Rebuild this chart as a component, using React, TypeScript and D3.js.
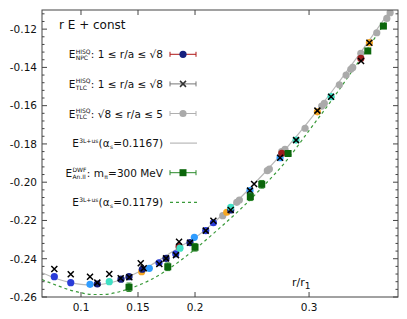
import * as d3 from 'd3'

// NPC HISQ points (1 <= r/a <= sqrt 8), one colour per ensemble
const npcX = [0.0766, 0.091, 0.1079, 0.1143, 0.1248, 0.1351, 0.1421, 0.1532, 0.1538, 0.1599, 0.1684, 0.1746, 0.1831, 0.186, 0.1868, 0.1956, 0.1994, 0.2094, 0.2161, 0.2278, 0.2313, 0.2313, 0.2482, 0.2746, 0.2761, 0.2886, 0.3073, 0.3193, 0.3454, 0.3529]
const npcY = [-0.2494, -0.2525, -0.2534, -0.2532, -0.252, -0.2507, -0.2494, -0.2468, -0.2455, -0.245, -0.2421, -0.2398, -0.2375, -0.2337, -0.2345, -0.2316, -0.2288, -0.2253, -0.2212, -0.2157, -0.2145, -0.2131, -0.2044, -0.1872, -0.1849, -0.178, -0.1632, -0.1553, -0.1353, -0.1271]
const npcEns = ['b', 'b', 'l', 'n', 'c', 'n', 'n', 'o', 'n', 'l', 'b', 'n', 'b', 'r', 'c', 'n', 'l', 'b', 'b', 'o', 'n', 'c', 'l', 'l', 'r', 'c', 'o', 'c', 'r', 'o']

// TLC HISQ points (1 <= r/a <= sqrt 8)
const tlcX = [0.0766, 0.091, 0.1079, 0.1143, 0.1248, 0.1348, 0.1424, 0.1524, 0.155, 0.1687, 0.1746, 0.1833, 0.186, 0.1956, 0.2094, 0.2161, 0.2313, 0.2482, 0.2518, 0.2746, 0.2886, 0.3073, 0.3193, 0.3456, 0.3529]
const tlcY = [-0.2454, -0.2481, -0.2494, -0.2525, -0.248, -0.2502, -0.2497, -0.2424, -0.245, -0.2428, -0.2398, -0.2381, -0.2311, -0.2316, -0.2253, -0.2201, -0.2145, -0.2044, -0.2009, -0.1872, -0.178, -0.1626, -0.1553, -0.1367, -0.1271]

// TLC HISQ points (sqrt 8 <= r/a <= 5)
const farX = [0.2243, 0.2366, 0.2389, 0.2634, 0.2652, 0.276, 0.2789, 0.2965, 0.3111, 0.3134, 0.3266, 0.3325, 0.3366, 0.3383, 0.3454, 0.3594, 0.3682, 0.3711]
const farY = [-0.2175, -0.2105, -0.2093, -0.194, -0.1931, -0.184, -0.1828, -0.1718, -0.1602, -0.1588, -0.1491, -0.144, -0.141, -0.14, -0.1326, -0.1219, -0.1144, -0.1114]

// DWF An.II, m_pi = 300 MeV
const dwfX = [0.1421, 0.1761, 0.2, 0.2485, 0.2585, 0.2816, 0.3515, 0.3652]
const dwfY = [-0.2549, -0.2442, -0.234, -0.2076, -0.2011, -0.185, -0.1314, -0.1184]
const dwfErr = [0.0022, 0.002, 0.002, 0.002, 0.002, 0.0012, 0.0012, 0.001]

// 3L+us curves
const curveX = [0.0658, 0.08, 0.09, 0.1, 0.11, 0.12, 0.13, 0.14, 0.15, 0.16, 0.17, 0.18, 0.19, 0.2, 0.22, 0.24, 0.26, 0.28, 0.3, 0.32, 0.34, 0.36, 0.372]
const curve1167 = [-0.2473, -0.2507, -0.2524, -0.2534, -0.2537, -0.2532, -0.2519, -0.2498, -0.2471, -0.2438, -0.2402, -0.2364, -0.2326, -0.229, -0.2192, -0.208, -0.1957, -0.1823, -0.1679, -0.1526, -0.1365, -0.1197, -0.1095]
const curve1179 = [-0.2509, -0.2542, -0.2563, -0.2578, -0.2587, -0.2587, -0.2578, -0.2561, -0.254, -0.2513, -0.248, -0.2441, -0.2397, -0.235, -0.2248, -0.214, -0.202, -0.1889, -0.173, -0.157, -0.14, -0.1225, -0.1115]

const xTicks = [0.1, 0.15, 0.2, 0.3]
const yTicks = [-0.26, -0.24, -0.22, -0.2, -0.18, -0.16, -0.14, -0.12]

const ensColor: Record<string, string> = {
  b: '#2a3cd8',
  n: '#16207e',
  l: '#2f9cff',
  c: '#3fe0c4',
  o: '#f5a623',
  r: '#9b1c1c',
}

type Seg = { t?: string; sup?: string; sub?: string }
const legendRows: Seg[][] = [
  [{ t: 'E' }, { sup: 'HISQ', sub: 'NPC' }, { t: ': 1 ≤ r/a ≤ √8' }],
  [{ t: 'E' }, { sup: 'HISQ', sub: 'TLC' }, { t: ': 1 ≤ r/a ≤ √8' }],
  [{ t: 'E' }, { sup: 'HISQ', sub: 'TLC' }, { t: ': √8 ≤ r/a ≤ 5' }],
  [{ t: 'E' }, { sup: '3L+us' }, { t: '(α' }, { sub: 's' }, { t: '=0.1167)' }],
  [{ t: 'E' }, { sup: 'DWF', sub: 'An.II' }, { t: ': m' }, { sub: 'π' }, { t: '=300 MeV' }],
  [{ t: 'E' }, { sup: '3L+us' }, { t: '(α' }, { sub: 's' }, { t: '=0.1179)' }],
]

const FONT = '"DejaVu Sans", sans-serif'
const MAIN = 10.5
const SMALL = 6

const ctx = document.createElement('canvas').getContext('2d')!
function tw(s: string, size: number) {
  ctx.font = `${size}px "DejaVu Sans"`
  return ctx.measureText(s).width
}

function LegendText({ segs, right, y }: { segs: Seg[]; right: number; y: number }) {
  const widths = segs.map(s =>
    s.t ? tw(s.t, MAIN) : Math.max(s.sup ? tw(s.sup, SMALL) : 0, s.sub ? tw(s.sub, SMALL) : 0) + 0.6
  )
  let x = right - d3.sum(widths)
  const out: JSX.Element[] = []
  segs.forEach((s, i) => {
    if (s.t) out.push(<text key={i} x={x} y={y} fontSize={MAIN}>{s.t}</text>)
    if (s.sup) out.push(<text key={i + 'p'} x={x + 0.3} y={y - 4.6} fontSize={SMALL}>{s.sup}</text>)
    if (s.sub) out.push(<text key={i + 'b'} x={x + 0.3} y={y + 1.8} fontSize={SMALL}>{s.sub}</text>)
    x += widths[i]
  })
  return <g>{out}</g>
}

function Cross({ x, y, s = 3, color = '#000' }: { x: number; y: number; s?: number; color?: string }) {
  return (
    <path d={`M${x - s},${y - s}L${x + s},${y + s}M${x - s},${y + s}L${x + s},${y - s}`} stroke={color} strokeWidth={1.5} />
  )
}

export default function App() {
  const W = 407
  const H = 319
  const L = 42, R = 398, T = 10, B = 297
  const x = d3.scaleLinear().domain([0.0658, 0.378]).range([L, R])
  const y = d3.scaleLinear().domain([-0.26, -0.11]).range([B, T])

  const line = d3
    .line<number>()
    .x((_, i) => x(curveX[i]))
    .y(d => y(d))
    .curve(d3.curveMonotoneX)

  const minorY = d3.range(0, 38).map(i => -0.26 + i * 0.004).filter(v => v < -0.1101 && Math.abs(((v + 0.26) / 0.02) - Math.round((v + 0.26) / 0.02)) > 0.01)

  const axisColor = '#444'
  const legRight = 163
  const sx0 = 170, sx1 = 196, sxm = 183
  const rowY = d3.range(6).map(i => 54.3 + i * 29.6)

  return (
    <div style={{ position: 'fixed', left: 0, top: 0 }}>
      <svg width={W} height={H} style={{ display: 'block', background: '#fff', fontFamily: FONT }}>
        <defs>
          <clipPath id="plot">
            <rect x={L} y={T} width={R - L} height={B - T} />
          </clipPath>
        </defs>

        {/* axis ticks */}
        {yTicks.map(v => (
          <g key={v}>
            <line x1={L} x2={L + 5} y1={y(v)} y2={y(v)} stroke={axisColor} />
            <line x1={R} x2={R - 5} y1={y(v)} y2={y(v)} stroke={axisColor} />
            <text x={L - 5} y={y(v) + 3.8} fontSize={10.5} textAnchor="end" fill="#111">
              {v.toFixed(2)}
            </text>
          </g>
        ))}
        {minorY.map(v => (
          <g key={'m' + v}>
            <line x1={L} x2={L + 2.5} y1={y(v)} y2={y(v)} stroke={axisColor} />
            <line x1={R} x2={R - 2.5} y1={y(v)} y2={y(v)} stroke={axisColor} />
          </g>
        ))}
        {xTicks.map(v => (
          <g key={v}>
            <line x1={x(v)} x2={x(v)} y1={B} y2={B - 5} stroke={axisColor} />
            <line x1={x(v)} x2={x(v)} y1={T} y2={T + 5} stroke={axisColor} />
            <text x={x(v)} y={B + 13.5} fontSize={10.5} textAnchor="middle" fill="#111">
              {String(v)}
            </text>
          </g>
        ))}

        <g clipPath="url(#plot)">
          <path d={line(curve1167) ?? ''} fill="none" stroke="#b8b8b8" strokeWidth={1.2} />
          <path d={line(curve1179) ?? ''} fill="none" stroke="#3a9a3a" strokeWidth={1.2} strokeDasharray="3,3" />

          {farX.map((v, i) => (
            <circle key={'f' + i} cx={x(v)} cy={y(farY[i])} r={3.6} fill="#aaaaaa" />
          ))}
          {npcX.map((v, i) => (
            <circle key={'n' + i} cx={x(v)} cy={y(npcY[i])} r={3.6} fill={ensColor[npcEns[i]]} />
          ))}
          {tlcX.map((v, i) => (
            <Cross key={'t' + i} x={x(v)} y={y(tlcY[i])} />
          ))}
          {dwfX.map((v, i) => (
            <g key={'d' + i}>
              <line x1={x(v)} x2={x(v)} y1={y(dwfY[i] - dwfErr[i])} y2={y(dwfY[i] + dwfErr[i])} stroke="#2a8a2a" />
              <line x1={x(v) - 2.5} x2={x(v) + 2.5} y1={y(dwfY[i] - dwfErr[i])} y2={y(dwfY[i] - dwfErr[i])} stroke="#2a8a2a" />
              <line x1={x(v) - 2.5} x2={x(v) + 2.5} y1={y(dwfY[i] + dwfErr[i])} y2={y(dwfY[i] + dwfErr[i])} stroke="#2a8a2a" />
              <rect x={x(v) - 3.5} y={y(dwfY[i]) - 3.5} width={7} height={7} fill="#0b660b" />
            </g>
          ))}
        </g>

        <rect x={L} y={T} width={R - L} height={B - T} fill="none" stroke={axisColor} strokeWidth={1} />

        {/* title and axis label */}
        <text x={59} y={28.5} fontSize={12} fill="#111">r E + const</text>
        <text x={292} y={286} fontSize={11} fill="#111">
          r/r
          <tspan fontSize={9} dy={3}>1</tspan>
        </text>

        {/* legend */}
        <g fill="#111">
          {legendRows.map((segs, i) => (
            <LegendText key={i} segs={segs} right={legRight} y={rowY[i] + 4} />
          ))}
        </g>
        {/* row 1 */}
        <g stroke="#b01818">
          <line x1={sx0} x2={sx1} y1={rowY[0]} y2={rowY[0]} />
          <line x1={sx0} x2={sx0} y1={rowY[0] - 2.5} y2={rowY[0] + 2.5} />
          <line x1={sx1} x2={sx1} y1={rowY[0] - 2.5} y2={rowY[0] + 2.5} />
        </g>
        <circle cx={sxm} cy={rowY[0]} r={3.6} fill="#16207e" />
        {/* row 2 */}
        <g stroke="#777">
          <line x1={sx0} x2={sx1} y1={rowY[1]} y2={rowY[1]} />
          <line x1={sx0} x2={sx0} y1={rowY[1] - 2.5} y2={rowY[1] + 2.5} />
          <line x1={sx1} x2={sx1} y1={rowY[1] - 2.5} y2={rowY[1] + 2.5} />
        </g>
        <Cross x={sxm} y={rowY[1]} color="#333" />
        {/* row 3 */}
        <g stroke="#b0b0b0">
          <line x1={sx0} x2={sx1} y1={rowY[2]} y2={rowY[2]} />
          <line x1={sx0} x2={sx0} y1={rowY[2] - 2.5} y2={rowY[2] + 2.5} />
          <line x1={sx1} x2={sx1} y1={rowY[2] - 2.5} y2={rowY[2] + 2.5} />
        </g>
        <circle cx={sxm} cy={rowY[2]} r={3.6} fill="#aaaaaa" />
        {/* row 4 */}
        <line x1={sx0} x2={sx1 + 1} y1={rowY[3]} y2={rowY[3]} stroke="#b8b8b8" strokeWidth={1.2} />
        {/* row 5 */}
        <g stroke="#2a8a2a">
          <line x1={sx0} x2={sx1} y1={rowY[4]} y2={rowY[4]} />
          <line x1={sx0} x2={sx0} y1={rowY[4] - 2.5} y2={rowY[4] + 2.5} />
          <line x1={sx1} x2={sx1} y1={rowY[4] - 2.5} y2={rowY[4] + 2.5} />
        </g>
        <rect x={sxm - 3.5} y={rowY[4] - 3.5} width={7} height={7} fill="#0b660b" />
        {/* row 6 */}
        <line x1={sx0} x2={sx1 + 1} y1={rowY[5]} y2={rowY[5]} stroke="#3a9a3a" strokeWidth={1.2} strokeDasharray="3,3" />
      </svg>
    </div>
  )
}
